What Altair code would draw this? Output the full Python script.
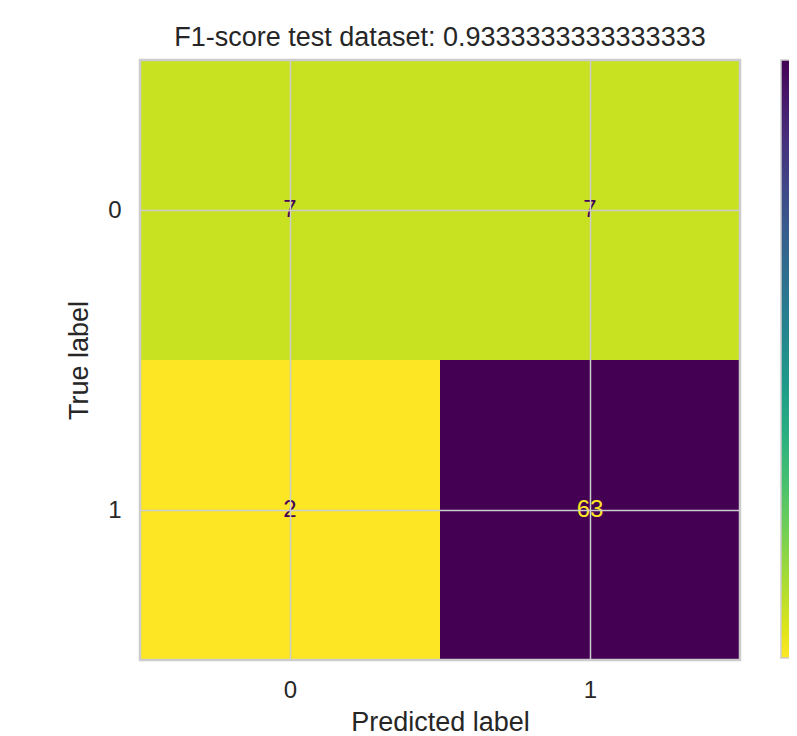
import altair as alt
import pandas as pd

true_labels = [0, 0, 1, 1]
pred_labels = [0, 1, 0, 1]
counts = [7, 7, 2, 63]
tick_values = [0, 1]
title_text = "F1-score test dataset: 0.9333333333333333"

df = pd.DataFrame({"true": true_labels, "pred": pred_labels, "count": counts})
df["x0"] = df["pred"] - 0.5
df["x1"] = df["pred"] + 0.5
df["y0"] = df["true"] - 0.5
df["y1"] = df["true"] + 0.5

FONT = "Liberation Sans"
GRID = "#cccccc"
xs = alt.Scale(domain=[-0.5, 1.5], nice=False, zero=False)
ys = alt.Scale(domain=[-0.5, 1.5], nice=False, zero=False, reverse=True)

base = alt.Chart(df)

cells = base.mark_rect().encode(
    x=alt.X("x0:Q", scale=xs, title="Predicted label",
            axis=alt.Axis(values=tick_values, format="d", zindex=1)),
    x2="x1:Q",
    y=alt.Y("y0:Q", scale=ys, title="True label",
            axis=alt.Axis(values=tick_values, format="d", zindex=1)),
    y2="y1:Q",
    color=alt.Color("count:Q",
                    scale=alt.Scale(scheme="viridis", reverse=True, domain=[min(counts), max(counts)]),
                    legend=alt.Legend(title=None, gradientLength=598, gradientThickness=30,
                                      offset=41, labelExpr="''",
                                      gradientStrokeColor=GRID, gradientStrokeWidth=1.5)),
)

border = base.mark_rect(filled=False, stroke=GRID, strokeWidth=2.5).encode(
    x=alt.X("min(x0):Q", scale=xs),
    x2="max(x1):Q",
    y=alt.Y("min(y0):Q", scale=ys),
    y2="max(y1):Q",
)

texts = base.mark_text(fontSize=24, font=FONT, align="center", baseline="middle").encode(
    x=alt.X("pred:Q", scale=xs),
    y=alt.Y("true:Q", scale=ys),
    text="count:Q",
    color=alt.condition(alt.datum.count > (min(counts) + max(counts)) / 2,
                        alt.value("#fde725"), alt.value("#440154")),
)

chart = (
    alt.layer(cells, border, texts)
    .properties(
        width=600,
        height=600,
        title=alt.TitleParams(title_text, fontSize=27, font=FONT, fontWeight="normal",
                              color="#262626", offset=7),
        autosize=alt.AutoSizeParams(type="none"),
        padding={"left": 132, "top": 52, "right": 49, "bottom": 76},
    )
    .configure_view(stroke=None)
    .configure_axis(
        grid=True, gridColor=GRID, gridWidth=1.5,
        domain=False, ticks=False, labelFontSize=24, titleFontSize=27,
        labelFont=FONT, titleFont=FONT, labelColor="#262626", titleColor="#262626",
        titleFontWeight="normal",
    )
    .configure_axisX(titlePadding=7, labelPadding=18)
    .configure_axisY(titlePadding=14, labelPadding=19, labelAngle=0)
)

chart.save("out.html", embed_options={"renderer": "svg", "actions": False})
